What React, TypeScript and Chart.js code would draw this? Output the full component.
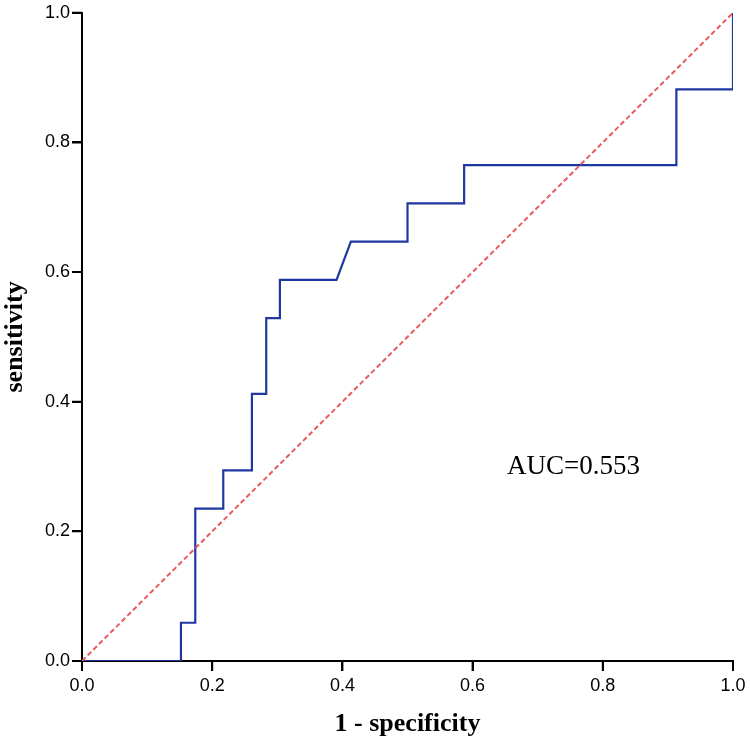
import React, { useEffect, useRef } from "react";
import { Chart, registerables } from "chart.js";

Chart.register(...registerables);

// ROC curve points (1 - specificity, sensitivity)
const rocFpr = [0, 0.152, 0.152, 0.174, 0.174, 0.217, 0.217, 0.261, 0.261, 0.283, 0.283, 0.304, 0.304, 0.391, 0.413, 0.5, 0.5, 0.587, 0.587, 0.913, 0.913, 1, 1];
const rocTpr = [0, 0, 0.059, 0.059, 0.235, 0.235, 0.294, 0.294, 0.412, 0.412, 0.529, 0.529, 0.588, 0.588, 0.647, 0.647, 0.706, 0.706, 0.765, 0.765, 0.882, 0.882, 1];

// Reference diagonal
const refX = [0, 1];
const refY = [0, 1];

const tickValues = [0, 0.2, 0.4, 0.6, 0.8, 1.0];
const aucLabel = "AUC=0.553";
const aucPos = { x: 0.755, y: 0.3 };

const TICK_LEN = 10;

const aucPlugin = {
  id: "aucText",
  afterDatasetsDraw(chart: any) {
    const { ctx, scales } = chart;
    const px = scales.x.getPixelForValue(aucPos.x);
    const py = scales.y.getPixelForValue(aucPos.y);
    ctx.save();
    ctx.font = '27px "Liberation Serif", "Times New Roman", serif';
    ctx.fillStyle = "#000";
    ctx.textAlign = "center";
    ctx.textBaseline = "middle";
    ctx.fillText(aucLabel, px, py);
    ctx.restore();
  },
};

const tickMarkPlugin = {
  id: "tickMarks",
  afterDraw(chart: any) {
    const { ctx, scales, chartArea } = chart;
    ctx.save();
    ctx.strokeStyle = "#000";
    ctx.lineWidth = 2;
    ctx.beginPath();
    tickValues.forEach((v) => {
      const x = scales.x.getPixelForValue(v);
      ctx.moveTo(x, chartArea.bottom);
      ctx.lineTo(x, chartArea.bottom + TICK_LEN);
      const y = scales.y.getPixelForValue(v);
      ctx.moveTo(chartArea.left, y);
      ctx.lineTo(chartArea.left - TICK_LEN, y);
    });
    ctx.stroke();
    ctx.restore();
  },
};

export default function App() {
  const canvasRef = useRef<HTMLCanvasElement | null>(null);

  useEffect(() => {
    document.body.style.margin = "0";
    const canvas = canvasRef.current;
    if (!canvas) return;
    const tickFont = { family: '"Liberation Sans", Arial, sans-serif', size: 18 };
    const titleFont = { family: '"Liberation Serif", "Times New Roman", serif', size: 26, weight: "bold" as const };
    const chart = new Chart(canvas, {
      type: "scatter",
      data: {
        datasets: [
          {
            label: "reference",
            data: refX.map((x, i) => ({ x, y: refY[i] })),
            showLine: true,
            borderColor: "#e95a5a",
            borderWidth: 2,
            borderDash: [5, 3],
            pointRadius: 0,
            fill: false,
          },
          {
            label: "ROC",
            data: rocFpr.map((x, i) => ({ x, y: rocTpr[i] })),
            showLine: true,
            borderColor: "#1f37a0",
            borderWidth: 2.2,
            pointRadius: 0,
            fill: false,
            tension: 0,
          },
        ],
      },
      options: {
        animation: false,
        responsive: false,
        layout: { padding: { left: 0, right: 17, top: 10, bottom: 0 } },
        plugins: {
          legend: { display: false },
          tooltip: { enabled: false },
        },
        scales: {
          x: {
            type: "linear",
            min: 0,
            max: 1,
            afterBuildTicks: (scale: any) => {
              scale.ticks = tickValues.map((v) => ({ value: v }));
            },
            afterFit: (scale: any) => {
              scale.height = 82;
            },
            ticks: {
              color: "#000",
              font: tickFont,
              padding: 4,
              maxRotation: 0,
              autoSkip: false,
              callback: (v: any) => Number(v).toFixed(1),
            },
            grid: {
              display: true,
              drawOnChartArea: false,
              drawTicks: true,
              tickLength: TICK_LEN,
              color: "#000",
              lineWidth: 2,
            },
            border: { display: true, color: "#000", width: 2 },
            title: {
              display: true,
              text: "1 - specificity",
              color: "#000",
              font: titleFont,
              padding: { top: 0, bottom: 3 },
            },
          },
          y: {
            type: "linear",
            min: 0,
            max: 1,
            afterBuildTicks: (scale: any) => {
              scale.ticks = tickValues.map((v) => ({ value: v }));
            },
            afterFit: (scale: any) => {
              scale.width = 82;
            },
            ticks: {
              color: "#000",
              font: tickFont,
              padding: 2,
              autoSkip: false,
              callback: (v: any) => Number(v).toFixed(1),
            },
            grid: {
              display: true,
              drawOnChartArea: false,
              drawTicks: true,
              tickLength: TICK_LEN,
              color: "#000",
              lineWidth: 2,
            },
            border: { display: true, color: "#000", width: 2 },
            title: {
              display: true,
              text: "sensitivity",
              color: "#000",
              font: titleFont,
              padding: { top: 0, bottom: 0 },
            },
          },
        },
      },
      plugins: [aucPlugin, tickMarkPlugin],
    });
    return () => chart.destroy();
  }, []);

  return (
    <div style={{ position: "absolute", left: 0, top: 0, width: 750, height: 743, background: "#fff" }}>
      <canvas ref={canvasRef} width={750} height={743} style={{ width: 750, height: 743 }} />
    </div>
  );
}
